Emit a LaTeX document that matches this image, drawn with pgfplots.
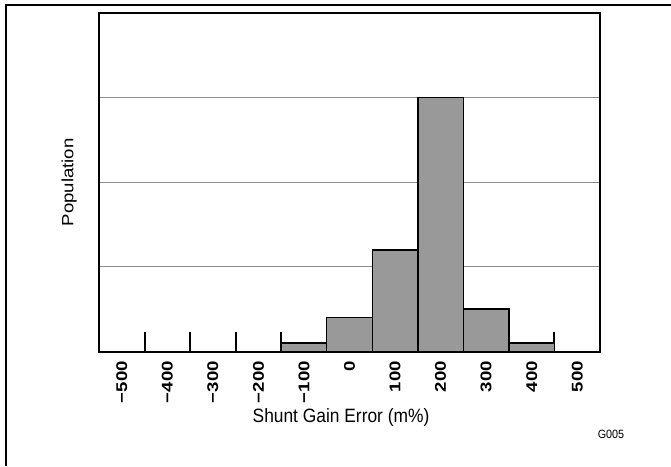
\documentclass[border=0pt]{standalone}
\usepackage{pgfplots}
\pgfplotsset{compat=1.18}
\usepackage{fontspec}
\setmainfont{Liberation Sans}
\newfontfamily\xfont[FakeStretch=0.9]{Liberation Sans}
\newfontfamily\yfont[FakeStretch=1.14]{Liberation Sans}
\newfontfamily\tfont[FakeStretch=1.2]{Liberation Sans}
\definecolor{barfill}{HTML}{999999}
\definecolor{gridgray}{HTML}{8C8C8C}
\begin{document}
\begin{tikzpicture}[x=1pt,y=1pt]
\useasboundingbox (0,0) rectangle (671,466);
\draw[line width=1.3pt] (6,0.5) -- (6,461) -- (671,461);
\begin{axis}[
  at={(99pt,114.5pt)}, anchor=south west,
  scale only axis, width=501pt, height=338.5pt,
  xmin=-550, xmax=550, ymin=0, ymax=40,
  axis line style={line width=2pt, black},
  xtick={-450,-350,...,450},
  xticklabels={},
  tick align=inside,
  xtick pos=bottom,
  major tick length=20pt,
  every tick/.append style={draw=black, line width=2pt},
  extra x ticks={-500,-400,...,500},
  extra x tick labels={−500,−400,−300,−200,−100,0,100,200,300,400,500},
  extra x tick style={major tick length=0pt},
  xticklabel shift=9.5pt,
  xticklabel style={rotate=90, anchor=east, inner sep=0pt, font=\tfont\bfseries\fontsize{15.5}{18}\selectfont},
  ytick={10,20,30},
  yticklabels={},
  ytick style={draw=none},
  ymajorgrids,
  grid style={gridgray, line width=1pt},
  xlabel={Shunt Gain Error (m\%)},
  xlabel style={at={(axis description cs:0.483,-0.2112)}, anchor=base, font=\xfont\fontsize{19.3}{22}\selectfont},
  ylabel={Population},
  ylabel style={at={(axis description cs:-0.0513,0.5)}, anchor=base, font=\yfont\fontsize{16.3}{20}\selectfont},
]
\addplot[ybar, bar width=100, bar shift=0, fill=barfill, draw=black, line width=1.5pt]
  coordinates {(-100,1) (0,4) (100,12) (200,30) (300,5) (400,1)};
\end{axis}
\node[font=\xfont\fontsize{12}{14}\selectfont, anchor=base] at (611,28) {G005};
\end{tikzpicture}
\end{document}
